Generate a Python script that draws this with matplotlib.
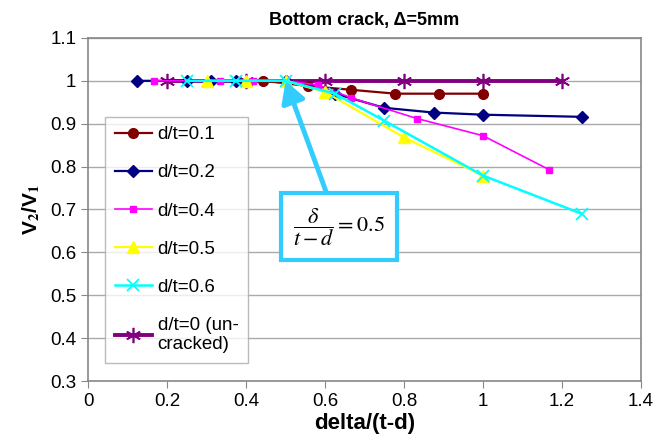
import numpy as np
import matplotlib.pyplot as plt

plt.rcParams['font.family'] = ['Liberation Sans', 'DejaVu Sans']
plt.rcParams['mathtext.fontset'] = 'stix'

# data
x_01 = [0.444, 0.556, 0.667, 0.778, 0.889, 1.0]
y_01 = [1.0, 0.988, 0.979, 0.97, 0.97, 0.97]

x_02 = [0.125, 0.25, 0.3125, 0.375, 0.5, 0.625, 0.75, 0.875, 1.0, 1.25]
y_02 = [1.0, 1.0, 1.0, 1.0, 1.0, 0.97, 0.937, 0.926, 0.921, 0.916]

x_04 = [0.167, 0.333, 0.417, 0.5, 0.583, 0.667, 0.833, 1.0, 1.167]
y_04 = [1.0, 1.0, 1.0, 1.0, 0.99, 0.96, 0.912, 0.872, 0.793]

x_05 = [0.3, 0.4, 0.5, 0.6, 0.8, 1.0]
y_05 = [1.0, 1.0, 1.0, 0.974, 0.868, 0.779]

x_06 = [0.25, 0.375, 0.5, 0.625, 0.75, 1.0, 1.25]
y_06 = [1.0, 1.0, 1.0, 0.97, 0.907, 0.779, 0.69]

x_00 = [0.2, 0.4, 0.6, 0.8, 1.0, 1.2]
y_00 = [1.0, 1.0, 1.0, 1.0, 1.0, 1.0]

fig = plt.figure(figsize=(6.67, 4.41), dpi=100)
ax = fig.add_axes([0.132, 0.136, 0.829, 0.778])

ax.plot(x_01, y_01, color='#800000', marker='o', ms=7, lw=1.6, label='d/t=0.1', zorder=3)
ax.plot(x_02, y_02, color='#000080', marker='D', ms=6, lw=1.6, label='d/t=0.2', zorder=3)
ax.plot(x_04, y_04, color='#FF00FF', marker='s', ms=4.5, lw=1.2, label='d/t=0.4', zorder=3)
ax.plot(x_05, y_05, color='#FFFF00', marker='^', ms=8, lw=1.6, label='d/t=0.5', zorder=3)
ax.plot(x_06, y_06, color='#00FFFF', marker='x', ms=8, mew=1.3, lw=1.8, label='d/t=0.6', zorder=3)
ax.plot(x_00, y_00, color='#800080', marker=(6, 2, 0), ms=11, mew=1.2, lw=2.8,
        label='d/t=0 (un-\ncracked)', zorder=2)

ax.set_xlim(0, 1.4)
ax.set_ylim(0.3, 1.1)
ax.set_xticks(np.arange(0, 1.41, 0.2))
ax.set_xticklabels(['0', '0.2', '0.4', '0.6', '0.8', '1', '1.2', '1.4'])
ax.set_yticks(np.arange(0.3, 1.11, 0.1))
ax.set_yticklabels(['0.3', '0.4', '0.5', '0.6', '0.7', '0.8', '0.9', '1', '1.1'])
ax.tick_params(labelsize=13.5, color='#888888', length=5)
ax.yaxis.grid(True, color='#aaaaaa', lw=1)
for s in ax.spines.values():
    s.set_color('#888888')
    s.set_linewidth(1.2)

ax.set_title('Bottom crack, \u0394=5mm', fontsize=13, fontweight='bold', pad=9)
ax.set_xlabel('delta/(t-d)', fontsize=16, fontweight='bold', labelpad=2)
ax.set_ylabel('V$_\\mathbf{2}$/V$_\\mathbf{1}$', fontsize=15, fontweight='bold', labelpad=6)

leg = ax.legend(loc='upper left', bbox_to_anchor=(0.031, 0.77), fontsize=13.5,
                frameon=True, fancybox=False, edgecolor='#aaaaaa',
                labelspacing=1.12, handlelength=2.0, handletextpad=0.3, borderpad=0.5,
                borderaxespad=0)
leg.get_frame().set_linewidth(1)

ax.annotate(r'$\dfrac{\delta}{t-d}=0.5$', xy=(0.5, 1.0), xytext=(0.635, 0.66),
            fontsize=16, ha='center', va='center', zorder=5,
            bbox=dict(boxstyle='square,pad=0.55', fc='white', ec='#33CCFF', lw=3),
            arrowprops=dict(arrowstyle='-|>,head_length=0.8,head_width=0.45',
                            color='#33CCFF', lw=3.5, shrinkA=0, shrinkB=0))

plt.savefig('out.png', dpi=100)
